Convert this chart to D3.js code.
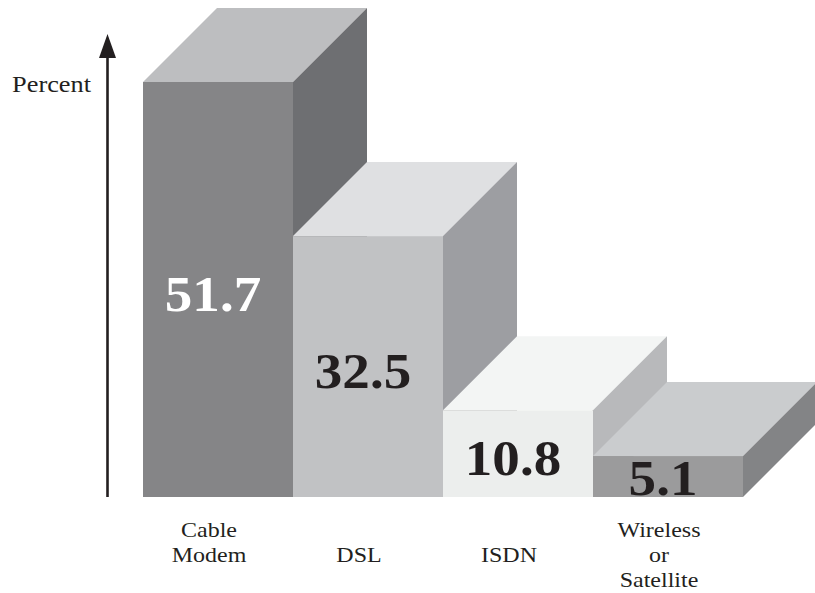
<!DOCTYPE html>
<html>
<head>
<meta charset="utf-8">
<script src="https://cdn.jsdelivr.net/npm/d3@7"></script>
<style>
  html, body { margin: 0; padding: 0; background: #ffffff; }
  svg { display: block; }
</style>
</head>
<body>
<svg id="chart" width="815" height="593"></svg>
<script>
// ---- data ----
const categories = ["Cable Modem", "DSL", "ISDN", "Wireless or Satellite"];
const categoryLines = [["Cable", "Modem"], ["DSL"], ["ISDN"], ["Wireless", "or", "Satellite"]];
const values = [51.7, 32.5, 10.8, 5.1];
const valueLabels = ["51.7", "32.5", "10.8", "5.1"];
const axisTitle = "Percent";

// ---- styles ----
const frontColors = ["#858587", "#c1c2c4", "#eceeed", "#9b9b9c"];
const topColors   = ["#bdbec0", "#dfe0e2", "#f3f5f4", "#caccce"];
const sideColors  = ["#6e6f72", "#9d9ea2", "#b8b9bb", "#838486"];
const valueTextColors = ["#ffffff", "#231f20", "#231f20", "#231f20"];
const ink = "#231f20";
const serif = "'Liberation Serif', 'Times New Roman', serif";

const svg = d3.select("#chart");
const baseY = 497;
const depthX = 74, depthY = 74;

const x = d3.scaleBand().domain(categories).range([143, 743]).padding(0);
const y = d3.scaleLinear().domain([0, 51.7]).range([baseY, 82]);

const data = categories.map((c, i) => ({ c, i, v: values[i] }));

const bars = svg.append("g").selectAll("g.bar").data(data).join("g").attr("class", "bar");

// front face
bars.append("rect")
  .attr("x", d => x(d.c))
  .attr("y", d => y(d.v))
  .attr("width", x.bandwidth())
  .attr("height", d => y(0) - y(d.v))
  .attr("fill", d => frontColors[d.i]);

// top face
bars.append("path")
  .attr("d", d => {
    const x0 = x(d.c), x1 = x0 + x.bandwidth(), t = y(d.v);
    return `M${x0},${t}L${x1},${t}L${x1 + depthX},${t - depthY}L${x0 + depthX},${t - depthY}Z`;
  })
  .attr("fill", d => topColors[d.i]);

// side face
bars.append("path")
  .attr("d", d => {
    const x1 = x(d.c) + x.bandwidth(), t = y(d.v), b = y(0);
    return `M${x1},${t}L${x1 + depthX},${t - depthY}L${x1 + depthX},${b - depthY}L${x1},${b}Z`;
  })
  .attr("fill", d => sideColors[d.i]);

// value labels
bars.append("text")
  .attr("transform", d => `translate(${x(d.c) + x.bandwidth() / 2 - 5},${Math.min(y(d.v / 2) + 21, baseY - 2)}) scale(1.08,1)`)
  .attr("text-anchor", "middle")
  .attr("font-family", serif)
  .attr("font-weight", "bold")
  .attr("font-size", 51)
  .attr("fill", d => valueTextColors[d.i])
  .text(d => valueLabels[d.i]);

// category labels
const lineH = 25;
const labelBase = 562;
svg.append("g").selectAll("g").data(data).join("g")
  .attr("transform", d => `translate(${x(d.c) + x.bandwidth() / 2 - 9},0)`)
  .each(function(d) {
    const lines = categoryLines[d.i];
    const first = labelBase - Math.floor(lines.length / 2) * lineH;
    d3.select(this).selectAll("text").data(lines).join("text")
      .attr("transform", (l, k) => `translate(0,${first + k * lineH}) scale(1.2,1)`)
      .attr("text-anchor", "middle")
      .attr("font-family", serif)
      .attr("font-size", 20)
      .attr("fill", ink)
      .text(l => l);
  });

// y axis arrow
const axisX = 107.5;
svg.append("line")
  .attr("x1", axisX).attr("x2", axisX)
  .attr("y1", y(0)).attr("y2", 56)
  .attr("stroke", ink).attr("stroke-width", 2.6);
svg.append("path")
  .attr("d", `M${axisX - 8.5},58L${axisX + 8.5},58L${axisX},34Z`)
  .attr("fill", ink);

svg.append("text")
  .attr("transform", "translate(91,92) scale(1.17,1)")
  .attr("text-anchor", "end")
  .attr("font-family", serif)
  .attr("font-size", 22.5)
  .attr("fill", ink)
  .text(axisTitle);
</script>
</body>
</html>
